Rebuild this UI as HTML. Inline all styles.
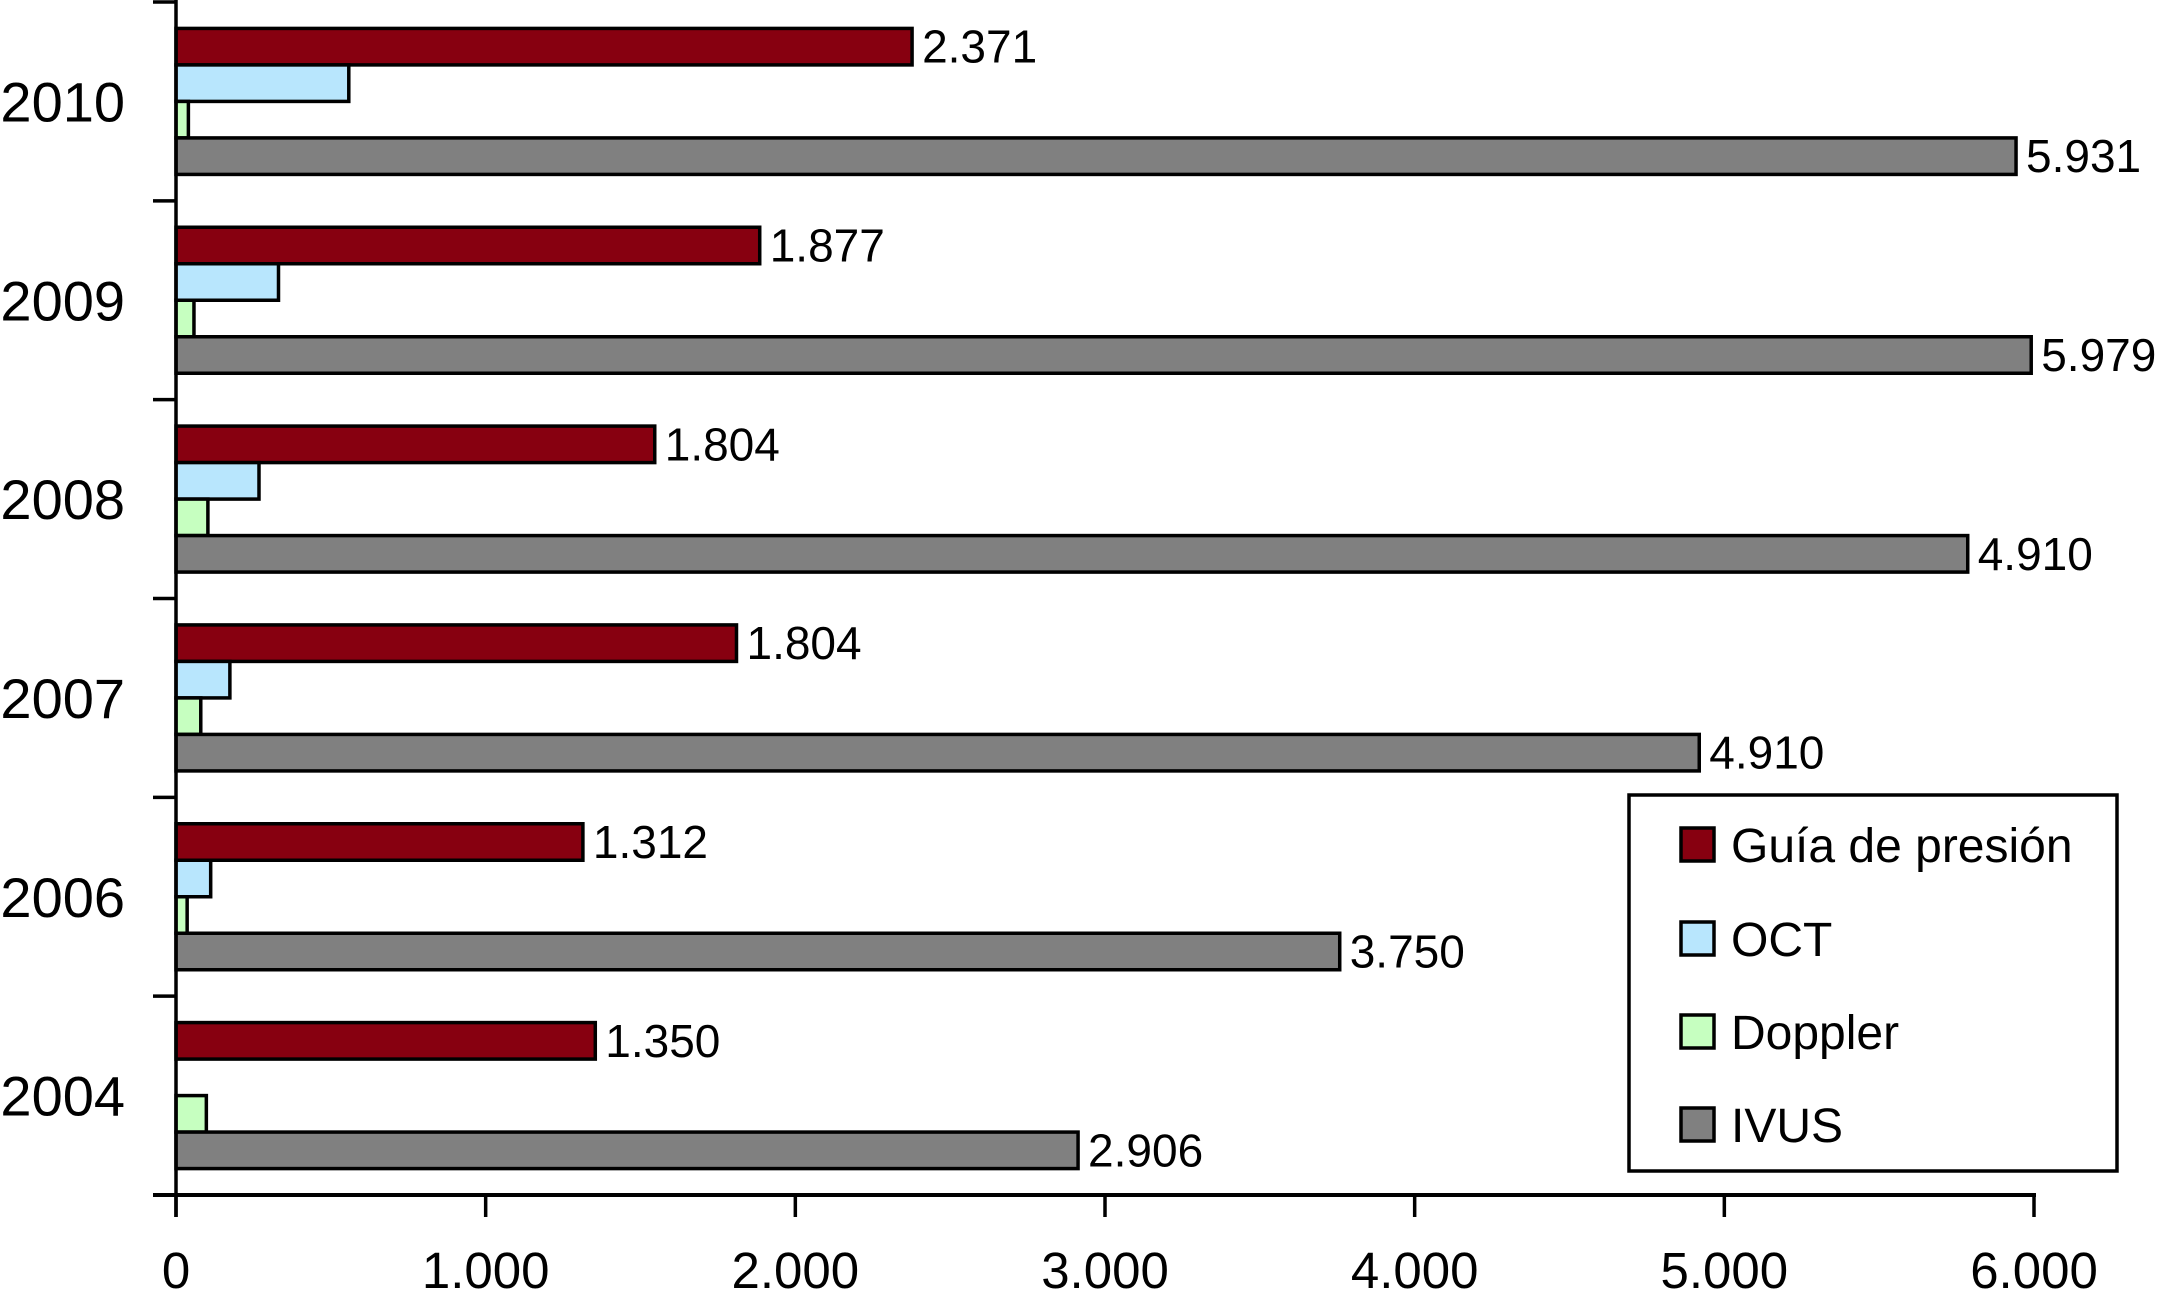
<!DOCTYPE html>
<html><head><meta charset="utf-8"><style>
html,body{margin:0;padding:0;background:#fff;}
svg{display:block;font-family:"Liberation Sans",Arial,sans-serif;}
</style></head><body>
<svg id="chart" width="2169" height="1301" viewBox="0 0 2169 1301" xmlns="http://www.w3.org/2000/svg">
<g id="plot"></g>
<g id="legend"></g>
</svg>
<script>
const categories = ["2010","2009","2008","2007","2006","2004"];
const seriesNames = ["Guía de presión","OCT","Doppler","IVUS"];
const guiaValues = [2377,1885,1546,1810,1314,1354];
const octValues = [558,331,268,174,112,0];
const dopplerValues = [40,58,103,80,36,98];
const ivusValues = [5942,5991,5786,4919,3758,2913];
const guiaLabels = ["2.371","1.877","1.804","1.804","1.312","1.350"];
const ivusLabels = ["5.931","5.979","4.910","4.910","3.750","2.906"];
const xTicks = [0,1000,2000,3000,4000,5000,6000];
const xTickLabels = ["0","1.000","2.000","3.000","4.000","5.000","6.000"];

const NS="http://www.w3.org/2000/svg";
const colors=["#870010","#b8e6fd","#c6ffc0","#808080"];
const x0=176, x1=2034, yTop=2, yBottom=1195;
const xScale=v=>x0+(v/6000)*(x1-x0);
const band=(yBottom-yTop)/categories.length;
const barH=36.5, pad=(band-4*barH)/2;
const yBar=(ci,si)=>yTop+ci*band+pad+si*barH;
function mk(tag,attrs,parent){const e=document.createElementNS(NS,tag);for(const k in attrs)e.setAttribute(k,attrs[k]);parent.appendChild(e);return e;}
const plot=document.getElementById('plot');
const all=[guiaValues,octValues,dopplerValues,ivusValues];
categories.forEach((c,ci)=>{
  all.forEach((arr,si)=>{
    const v=arr[ci]; if(v<=0) return;
    const r=mk('rect',{x:xScale(0),y:yBar(ci,si),width:xScale(v)-xScale(0),height:barH,fill:colors[si],stroke:'#000','stroke-width':3.5},plot);
    
    
  });
  const t1=mk('text',{x:xScale(guiaValues[ci])+10,y:yBar(ci,0)+barH/2+16,'font-size':46,fill:'#000'},plot);
  t1.textContent=guiaLabels[ci];
  
  
  const t2=mk('text',{x:xScale(ivusValues[ci])+10,y:yBar(ci,3)+barH/2+16,'font-size':46,fill:'#000'},plot);
  t2.textContent=ivusLabels[ci];
  
  
  const yl=mk('text',{x:125,y:yTop+ci*band+band/2+20,'font-size':56,'text-anchor':'end',fill:'#000'},plot);
  yl.textContent=c;
  
  
});
for(let i=0;i<=categories.length;i++){
  const tk=mk('line',{x1:153,x2:x0,y1:yTop+i*band,y2:yTop+i*band,stroke:'#000','stroke-width':3.5},plot);
  
  
}
const ya=mk('line',{x1:x0,x2:x0,y1:0,y2:yBottom+22,stroke:'#000','stroke-width':3.5},plot);


const xa=mk('line',{x1:153,x2:x1+2,y1:yBottom,y2:yBottom,stroke:'#000','stroke-width':4},plot);


xTicks.forEach((v,i)=>{
  const tk=mk('line',{x1:xScale(v),x2:xScale(v),y1:yBottom,y2:yBottom+22,stroke:'#000','stroke-width':3.5},plot);
  
  
  const tl=mk('text',{x:xScale(v),y:1288,'font-size':51,'text-anchor':'middle',fill:'#000'},plot);
  tl.textContent=xTickLabels[i];
  
  
});
const lg=document.getElementById('legend');
const box=mk('rect',{x:1629,y:795,width:488,height:376,fill:'#fff',stroke:'#000','stroke-width':3.5},lg);


const ly=[828,922,1015,1108];
seriesNames.forEach((n,i)=>{
  const s=mk('rect',{x:1681,y:ly[i],width:33,height:33,fill:colors[i],stroke:'#000','stroke-width':3.5},lg);
  
  
  const t=mk('text',{x:1731,y:ly[i]+34,'font-size':48,fill:'#000'},lg);
  t.textContent=n;
  
  
});
</script>
</body></html>
